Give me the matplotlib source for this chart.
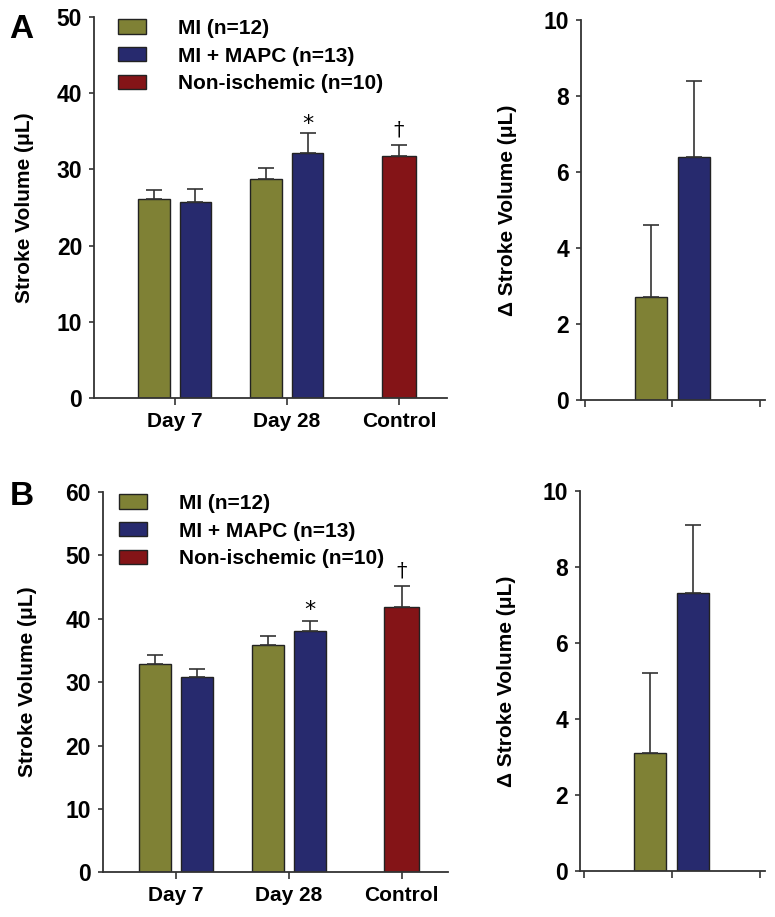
import numpy as np
import matplotlib
matplotlib.use("Agg")
import matplotlib.pyplot as plt

plt.rcParams['font.family'] = ['Liberation Sans', 'DejaVu Sans']
plt.rcParams['font.weight'] = 'bold'

# group labels and series
groups = ["Day 7", "Day 28", "Control"]
series_labels = ["MI (n=12)", "MI + MAPC (n=13)", "Non-ischemic (n=10)"]
colors = ["#7f8135", "#272a6e", "#841417"]

# panel A values (mean, upper error end)
a_mi = [26.1, 28.7]
a_mi_err = [1.2, 1.5]
a_mapc = [25.7, 32.1]
a_mapc_err = [1.7, 2.7]
a_ctrl = 31.7
a_ctrl_err = 1.5
a_delta = [2.7, 6.4]
a_delta_err = [1.9, 2.0]

# panel B values
b_mi = [32.9, 35.9]
b_mi_err = [1.4, 1.4]
b_mapc = [30.8, 38.1]
b_mapc_err = [1.3, 1.6]
b_ctrl = 41.9
b_ctrl_err = 3.3
b_delta = [3.1, 7.3]
b_delta_err = [2.1, 1.8]

fig = plt.figure(figsize=(7.75, 9.17), dpi=100)

ekw = dict(ecolor="#333333", elinewidth=1.2, capsize=5.5, capthick=1.2)
spine_c = "#333333"


def style(ax):
    for s in ["top", "right"]:
        ax.spines[s].set_visible(False)
    for s in ["left", "bottom"]:
        ax.spines[s].set_color(spine_c)
        ax.spines[s].set_linewidth(1.3)
    ax.tick_params(axis="y", length=3.5, width=1.2, color=spine_c, pad=5, labelsize=16.5)
    ax.tick_params(axis="x", length=5, width=1.2, color=spine_c, pad=5, labelsize=15)
    for lab in ax.get_yticklabels() + ax.get_xticklabels():
        lab.set_fontweight("bold")


def main_panel(rect, mi, mi_err, mapc, mapc_err, ctrl, ctrl_err, ymax, ystep,
               star_y, dag_y, leg_x, xlim, lpad):
    ax = fig.add_axes(rect)
    x = np.arange(2)
    w = 0.28
    off = 0.185
    ax.bar(x - off, mi, w, color=colors[0], edgecolor="#222222", linewidth=1.0,
           yerr=[np.zeros(2), mi_err], error_kw=ekw, label=series_labels[0], zorder=2)
    ax.bar(x + off, mapc, w, color=colors[1], edgecolor="#222222", linewidth=1.0,
           yerr=[np.zeros(2), mapc_err], error_kw=ekw, label=series_labels[1], zorder=2)
    ax.bar([2], [ctrl], 0.31, color=colors[2], edgecolor="#222222", linewidth=1.0,
           yerr=[[0], [ctrl_err]], error_kw=ekw, label=series_labels[2], zorder=2)
    ax.text(1 + off, star_y, "*", ha="center", va="center", fontsize=16,
            fontweight="normal", family="DejaVu Sans")
    ax.text(2, dag_y, "\u2020", ha="center", va="center", fontsize=15,
            fontweight="normal", family="DejaVu Serif")
    ax.set_xlim(*xlim)
    ax.set_ylim(0, ymax)
    ax.set_yticks(np.arange(0, ymax + 1, ystep))
    ax.set_xticks(np.arange(3))
    ax.set_xticklabels(groups)
    ax.set_ylabel("Stroke Volume (\u03bcL)", fontsize=15, fontweight="bold", labelpad=lpad)
    style(ax)
    ax.legend(loc="upper left", bbox_to_anchor=(leg_x, 0.995), frameon=False,
              handlelength=1.35, handleheight=0.67, handletextpad=1.55,
              labelspacing=0.42, borderpad=0, borderaxespad=0,
              prop={"weight": "bold", "size": 15})
    return ax


def delta_panel(rect, vals, errs):
    ax = fig.add_axes(rect)
    ax.bar([1 - 0.25, 1 + 0.245], vals, 0.366, color=colors[:2], edgecolor="#222222",
           linewidth=1.0, yerr=[np.zeros(2), errs], error_kw=ekw, zorder=2)
    ax.set_xlim(-0.046, 2.06)
    ax.set_ylim(0, 10)
    ax.set_yticks(np.arange(0, 11, 2))
    ax.set_xticks([0, 1, 2])
    ax.set_xticklabels([])
    ax.set_ylabel("\u0394 Stroke Volume (\u03bcL)", fontsize=15, fontweight="bold", labelpad=19)
    style(ax)
    return ax


main_panel([0.1213, 0.566, 0.4557, 0.4155], a_mi, a_mi_err, a_mapc, a_mapc_err,
           a_ctrl, a_ctrl_err, 50, 10, 36.0, 35.2, 0.068, (-0.72, 2.43), 16)
delta_panel([0.7497, 0.5638, 0.2373, 0.4142], a_delta, a_delta_err)

main_panel([0.1325, 0.0487, 0.4455, 0.4148], b_mi, b_mi_err, b_mapc, b_mapc_err,
           b_ctrl, b_ctrl_err, 60, 10, 41.4, 47.6, 0.047, (-0.65, 2.41), 20)
delta_panel([0.748, 0.0502, 0.239, 0.4147], b_delta, b_delta_err)

fig.text(0.012, 0.9677, "A", fontsize=24, fontweight="bold", va="center", ha="left")
fig.text(0.012, 0.459, "B", fontsize=24, fontweight="bold", va="center", ha="left")

fig.savefig("out.png", dpi=100, facecolor="white")
